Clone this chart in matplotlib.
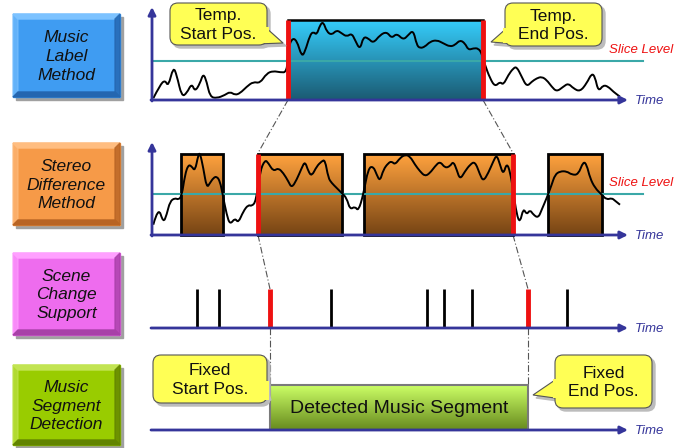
"""Music segment detection diagram: label method, stereo difference, scene change, result."""

import matplotlib

matplotlib.use("Agg")
import matplotlib.pyplot as plt  # noqa: E402
import numpy as np  # noqa: E402
from matplotlib.colors import LinearSegmentedColormap  # noqa: E402
from matplotlib.patches import FancyBboxPatch, PathPatch, Polygon, Rectangle  # noqa: E402
from matplotlib.path import Path  # noqa: E402

plt.rcParams["font.family"] = ["Liberation Sans", "DejaVu Sans"]

# ---- data (pixel coordinates of the diagram, y grows downward) ----
ROW_LABELS = ["Music\nLabel\nMethod", "Stereo\nDifference\nMethod",
              "Scene\nChange\nSupport", "Music\nSegment\nDetection"]
ROW_TOPS = [14, 143, 253, 365]
ROW_BOTTOMS = [97, 225, 335, 445]
AXIS_Y = [100, 235, 328, 430]
SLICE_Y = [61, 194]

# music label waveform
WAVE1_X = [153.3, 160, 165, 168.3, 173.3, 176.7, 181.7, 186.7, 191.7, 195, 200, 203.3,
           206.7, 210, 216.7, 225, 230, 235, 240, 246.7, 253.3, 260, 266.7, 273.3, 280, 287,
           288, 291.7, 296.7, 301.7, 305, 310, 313.3, 316.7, 320, 323.3, 326.7, 331.7, 336.7,
           341.7, 346.7, 351.7, 355, 360, 363.3, 368.3, 373.3, 380, 386.7, 391.7, 396.7,
           403.3, 408.3, 413.3, 416.7, 420, 425, 430, 436.7, 443.3, 450, 455, 460, 465,
           468.3, 473.3, 478.3, 481.7, 485, 490, 495, 500, 503.3, 508.3, 513.3, 516.7,
           521.7, 526.7, 531.7, 536.7, 541.7, 546.7, 551.7, 556.7, 563.3, 568.3, 573.3,
           580, 586.7, 591.7, 595, 598.3, 603.3, 608.3, 613.3, 620]
WAVE1_Y = [98.3, 85, 80, 86.7, 66.7, 75, 96.7, 93.3, 83.3, 91.7, 83.3, 73.3,
           81.7, 96.7, 98.3, 95, 91.7, 95, 93.3, 86.7, 81.7, 83.3, 73.3, 71, 72.3, 72.3,
           50, 38.3, 40, 56.7, 51.7, 35, 31.7, 35, 25, 21.7, 31.7, 35, 30,
           33.3, 36.7, 33.3, 40, 50, 36.7, 38.3, 43.3, 35, 31.7, 38.3, 33.3,
           40, 35, 30, 45, 48.3, 46.7, 41.7, 40, 43.3, 46.7, 45, 40, 43.3,
           50, 48.3, 48.3, 53.3, 65, 78.3, 86.7, 81.7, 85, 75, 68.3, 66.7,
           76.7, 86.7, 81.7, 78.3, 76.7, 80, 86.7, 91.7, 86.7, 83.3, 88.3,
           91.7, 83.3, 73.3, 76.7, 91.7, 85, 86.7, 91.7, 96.7]
LABEL_SPAN = (288, 483)
LABEL_TOP = 20

# stereo difference waveform
WAVE2_X = [153.3, 158.3, 163.3, 166.7, 170, 175, 178.3, 181.7, 185, 188.3, 191.7, 195,
           198.3, 200, 203.3, 206.7, 210, 213.3, 216.7, 220, 222.7, 226.7, 230, 235,
           238.3, 243.3, 248.3, 251.7, 256, 260, 265, 268.3, 273.3, 278.3, 283.3, 288.3,
           291.7, 296.7, 301.7, 305, 308.3, 311.7, 316.7, 321.7, 325, 328.3, 331.7, 336.7,
           341.7, 346.7, 350, 355, 358.3, 363.3, 368.3, 373.3, 376.7, 380, 383.3, 388.3,
           391.7, 395, 400, 405, 410, 415, 420, 425, 430, 435, 440, 445, 450, 453.3,
           456.7, 460, 465, 470, 475, 480, 483.3, 488.3, 493.3, 496.7, 500, 503.3, 506.7,
           510, 513.3, 516.7, 520, 523.3, 526.7, 530, 533.3, 538.3, 541.7, 546.7, 551.7,
           555, 560, 566.7, 571.7, 578.3, 583.3, 586.7, 590, 595, 601.7, 606.7, 611.7,
           615, 620]
WAVE2_Y = [224.7, 206.3, 223, 214.7, 201.3, 198, 199.7, 196.3, 174.7, 164.7, 166.3, 171.3,
           154.7, 153, 168, 188, 183, 178, 176.3, 181.3, 194.7, 214.7, 224.7, 218,
           223, 211.3, 204.7, 206.3, 201.3, 171.3, 159.7, 163, 171.3, 168, 173, 181.3,
           188, 179.7, 168, 161.3, 171.3, 176.3, 166.3, 161.3, 159.7, 178, 183, 188,
           193, 198, 209.7, 206.3, 211.3, 194.7, 168, 166.3, 174.7, 181.3, 169.7, 163,
           161.3, 164.7, 158, 154.7, 156.3, 164.7, 171.3, 176.3, 173, 166.3, 161.3, 168,
           166.3, 161.3, 169.7, 179.7, 171.3, 164.7, 161.3, 174.7, 181.3, 173, 161.3,
           154.7, 164.7, 174.7, 163, 171.3, 191.3, 214.7, 223, 208, 214.7, 209.7, 214.7,
           218, 209.7, 198, 184.7, 174.7, 171.3, 171.3, 174.7, 174.7, 161.3, 164.7, 178,
           188, 194.7, 199.7, 198, 200.7, 204.7]
STEREO_SPANS = [(181, 223), (258, 342), (364, 513), (548, 602)]
STEREO_TOP = 154
STEREO_MARKS = [258, 513]

# scene changes
SCENE_CUTS = [197, 219, 331, 427, 444, 472, 567]
SCENE_MARKS = [270, 528]
SCENE_TOP = 289

# detected segment
DETECT_SPAN = (270, 528)
DETECT_TOP = 385

# callouts: (left, top, right, bottom), text, tail polygon (base, tip, base)
CALLOUT_TEXT = ["Temp.\nStart Pos.", "Temp.\nEnd Pos.", "Fixed\nStart Pos.", "Fixed\nEnd Pos."]
CALLOUT_BOX = [(170, 3, 267, 45), (505, 3, 602, 46), (153, 355, 267, 403), (555, 355, 652, 408)]
CALLOUT_TAIL = [[(264, 26), (283, 43), (256, 44)],
                [(508, 27), (491, 42), (516, 44)],
                [(262, 380), (268, 397), (252, 401)],
                [(558, 378), (533, 395), (562, 399)]]

CONNECTORS = [((288, 100), (258, 153)), ((483, 100), (513, 153)),
              ((258, 235), (270, 289)), ((513, 235), (528, 289)),
              ((270, 328), (270, 385)), ((528, 328), (528, 385))]

# ---- styles ----
NAVY = "#35359a"
TEAL = "#3aa8a8"
RED = "#ee1111"
YELLOW = "#ffff55"
BOX_COLORS = [("#3f9cf2", "#7cc2ff", "#2466b0"),
              ("#f69a48", "#ffbd80", "#b86424"),
              ("#ee6cee", "#ffa0ff", "#a840a8"),
              ("#99cc00", "#c2e452", "#628400")]

fig = plt.figure(figsize=(6.9, 4.48), dpi=100)
ax = fig.add_axes([0, 0, 1, 1])


def gradient(x0, x1, y0, y1, top, bottom, z=1):
    cmap = LinearSegmentedColormap.from_list("g", [top, bottom])
    img = np.linspace(0, 1, 128).reshape(-1, 1)
    ax.imshow(img, cmap=cmap, extent=(x0, x1, y1, y0), aspect="auto",
              interpolation="bilinear", zorder=z)


def smooth_line(xs, ys, z=4):
    # quadratic bezier through midpoints, control points at the read-off samples
    pts = list(zip(xs, ys))
    verts = [pts[0]]
    codes = [Path.MOVETO]
    for i in range(1, len(pts) - 1):
        mid = ((pts[i][0] + pts[i + 1][0]) / 2, (pts[i][1] + pts[i + 1][1]) / 2)
        verts += [pts[i], mid]
        codes += [Path.CURVE3, Path.CURVE3]
    verts.append(pts[-1])
    codes.append(Path.LINETO)
    ax.add_patch(PathPatch(Path(verts, codes), fc="none", ec="black", lw=1.4,
                           joinstyle="round", zorder=z))


def bevel_box(i):
    x0, x1 = 13, 120
    y0, y1 = ROW_TOPS[i], ROW_BOTTOMS[i]
    face, light, dark = BOX_COLORS[i]
    b = 5
    ax.add_patch(Rectangle((x0 + 3, y0 + 3), x1 - x0, y1 - y0, color="#a0a0a0", zorder=1))
    ax.add_patch(Rectangle((x0, y0), x1 - x0, y1 - y0, color=face, zorder=2))
    ax.add_patch(Polygon([(x0, y0), (x1, y0), (x1 - b, y0 + b), (x0 + b, y0 + b)], color=light, zorder=3))
    ax.add_patch(Polygon([(x0, y0), (x0 + b, y0 + b), (x0 + b, y1 - b), (x0, y1)], color=light, zorder=3, alpha=0.6))
    ax.add_patch(Polygon([(x0, y1), (x0 + b, y1 - b), (x1 - b, y1 - b), (x1, y1)], color=dark, zorder=3))
    ax.add_patch(Polygon([(x1, y0), (x1, y1), (x1 - b, y1 - b), (x1 - b, y0 + b)], color=dark, zorder=3, alpha=0.8))
    ax.text((x0 + x1) / 2, (y0 + y1) / 2 + 1, ROW_LABELS[i], ha="center", va="center",
            fontsize=12.5, style="italic", color="#111111", linespacing=1.3, zorder=4)


def callout(i):
    x0, y0, x1, y1 = CALLOUT_BOX[i]
    tail = CALLOUT_TAIL[i]
    ax.add_patch(Polygon([(x + 3, y + 3) for x, y in tail], color="#bcbcbc", zorder=5))
    ax.add_patch(FancyBboxPatch((x0 + 3, y0 + 3), x1 - x0, y1 - y0,
                                boxstyle="round,pad=0,rounding_size=8", color="#bcbcbc", zorder=5))
    ax.add_patch(Polygon(tail, fc=YELLOW, ec="#555555", lw=0.8, zorder=6))
    ax.add_patch(FancyBboxPatch((x0, y0), x1 - x0, y1 - y0, boxstyle="round,pad=0,rounding_size=8",
                                fc=YELLOW, ec="#555555", lw=0.8, zorder=6))
    # cover the box edge where the tail joins
    side = 1 if tail[1][0] > x1 else -1
    bx = x1 if side > 0 else x0
    ax.add_patch(Polygon([(bx - side * 3, tail[0][1] + 1), (bx + side * 2, tail[0][1] + 1),
                          (bx + side * 2, min(tail[2][1], y1) - 1), (bx - side * 3, min(tail[2][1], y1) - 1)],
                         fc=YELLOW, ec="none", zorder=6.5))
    ax.text((x0 + x1) / 2, (y0 + y1) / 2 + 1, CALLOUT_TEXT[i], ha="center", va="center",
            fontsize=12.5, color="#111111", linespacing=1.3, zorder=7)


def time_axis(y, vertical_top=None):
    ax.annotate("", xy=(628, y), xytext=(151, y),
                arrowprops=dict(arrowstyle="-|>", color=NAVY, lw=2, mutation_scale=11,
                                shrinkA=0, shrinkB=0), zorder=8)
    if vertical_top is not None:
        ax.annotate("", xy=(152, vertical_top), xytext=(152, y + 1),
                    arrowprops=dict(arrowstyle="-|>", color=NAVY, lw=2, mutation_scale=11,
                                    shrinkA=0, shrinkB=0), zorder=8)
    ax.text(635, y + 1, "Time", ha="left", va="center", fontsize=9.5, style="italic",
            color=NAVY, zorder=8)


for i in range(4):
    bevel_box(i)

# panel 1: music label method
gradient(LABEL_SPAN[0], LABEL_SPAN[1], LABEL_TOP, AXIS_Y[0], "#35cdfb", "#1b5a72")
ax.plot([LABEL_SPAN[0], LABEL_SPAN[1]], [LABEL_TOP, LABEL_TOP], color="black", lw=1.8, zorder=3)
ax.plot([152, 643], [SLICE_Y[0]] * 2, color=TEAL, lw=1.5, zorder=2)
smooth_line(WAVE1_X, WAVE1_Y)
for x in LABEL_SPAN:
    ax.plot([x, x], [LABEL_TOP, AXIS_Y[0]], color=RED, lw=3.5, solid_capstyle="butt", zorder=5)
time_axis(AXIS_Y[0], vertical_top=7)
ax.text(641, 50, "Slice Level", ha="center", va="center", fontsize=9.5, style="italic",
        color=RED, zorder=8)

# panel 2: stereo difference method
for x0, x1 in STEREO_SPANS:
    gradient(x0, x1, STEREO_TOP, AXIS_Y[1], "#ffa23e", "#764414")
    ax.add_patch(Rectangle((x0, STEREO_TOP), x1 - x0, AXIS_Y[1] - STEREO_TOP, fc="none",
                           ec="black", lw=2, zorder=3))
ax.plot([152, 643], [SLICE_Y[1]] * 2, color=TEAL, lw=1.5, zorder=3.5)
smooth_line(WAVE2_X, WAVE2_Y)
for x in STEREO_MARKS:
    ax.plot([x, x], [STEREO_TOP, AXIS_Y[1]], color=RED, lw=3.5, solid_capstyle="butt", zorder=5)
time_axis(AXIS_Y[1], vertical_top=142)
ax.text(641, 183, "Slice Level", ha="center", va="center", fontsize=9.5, style="italic",
        color=RED, zorder=8)

# panel 3: scene change support
for x in SCENE_CUTS:
    ax.plot([x, x], [SCENE_TOP, AXIS_Y[2]], color="black", lw=2, solid_capstyle="butt", zorder=5)
for x in SCENE_MARKS:
    ax.plot([x, x], [SCENE_TOP, AXIS_Y[2]], color=RED, lw=3.5, solid_capstyle="butt", zorder=5)
time_axis(AXIS_Y[2])

# panel 4: detected segment
x0, x1 = DETECT_SPAN
gradient(x0, x1, DETECT_TOP, AXIS_Y[3], "#ccff66", "#678a1e", z=2)
ax.add_patch(Rectangle((x0, DETECT_TOP), x1 - x0, AXIS_Y[3] - DETECT_TOP, fc="none",
                       ec="#7a7a7a", lw=1.5, zorder=3))
ax.text((x0 + x1) / 2, (DETECT_TOP + AXIS_Y[3]) / 2 + 1, "Detected Music Segment",
        ha="center", va="center", fontsize=14, color="#111111", zorder=4)
time_axis(AXIS_Y[3])

for (xa, ya), (xb, yb) in CONNECTORS:
    ax.plot([xa, xb], [ya, yb], color="#555555", lw=0.8, ls=(0, (6, 2, 1, 2)), zorder=1.5)

for i in range(4):
    callout(i)

ax.set_xlim(0, 690)
ax.set_ylim(448, 0)
ax.axis("off")
fig.savefig("out.png", dpi=100)
